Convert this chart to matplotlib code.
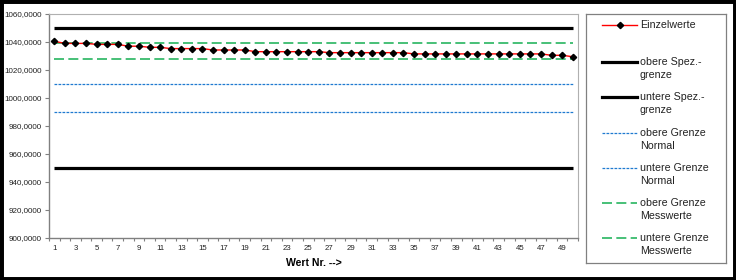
import matplotlib
matplotlib.use('Agg')
import matplotlib.pyplot as plt
import matplotlib.patches as patches
from matplotlib.ticker import FuncFormatter, FixedLocator
import numpy as np

plt.rcParams['font.family'] = ['Liberation Sans', 'DejaVu Sans']

# Data
wert_nr = list(range(1, 51))
einzelwerte = [1040.5, 1039.0, 1039.0, 1039.0, 1038.3, 1038.3, 1038.3, 1037.0, 1037.0, 1036.2,
               1036.2, 1035.3, 1035.3, 1035.3, 1035.3, 1034.3, 1034.3, 1034.3, 1034.3, 1033.1,
               1033.1, 1033.1, 1033.1, 1033.1, 1033.1, 1033.1, 1032.4, 1032.4, 1032.4, 1032.4,
               1032.4, 1032.4, 1032.4, 1032.4, 1031.5, 1031.5, 1031.5, 1031.5, 1031.5, 1031.5,
               1031.5, 1031.5, 1031.5, 1031.5, 1031.5, 1031.5, 1031.5, 1030.5, 1030.5, 1029.5]
obere_spez = 1050.0
untere_spez = 950.0
obere_normal = 1010.0
untere_normal = 990.0
obere_mess = 1039.5
untere_mess = 1028.0
y_ticks = [900, 920, 940, 960, 980, 1000, 1020, 1040, 1060]
x_labels = list(range(1, 50, 2))

W, H = 736, 280
fig = plt.figure(figsize=(W / 100, H / 100), dpi=100)
fig.patch.set_facecolor('white')

# plot area in pixel coords
L, R, T, B = 49, 578, 14, 238
ax = fig.add_axes([L / W, 1 - B / H, (R - L) / W, (B - T) / H])

red = '#ff0000'
blue = '#1f7ad0'
green = '#27b560'

n = len(wert_nr)
ax.plot(wert_nr, [obere_spez] * n, color='black', lw=2.3, solid_capstyle='butt')
ax.plot(wert_nr, [untere_spez] * n, color='black', lw=2.3, solid_capstyle='butt')
ax.plot(wert_nr, [obere_normal] * n, color=blue, lw=0.9, dashes=(2.2, 1.0))
ax.plot(wert_nr, [untere_normal] * n, color=blue, lw=0.9, dashes=(2.2, 1.0))
ax.plot(wert_nr, [obere_mess] * n, color=green, lw=1.2, dashes=(6, 2.6))
ax.plot(wert_nr, [untere_mess] * n, color=green, lw=1.2, dashes=(6, 2.6))
ax.plot(wert_nr, einzelwerte, color=red, lw=1.0, marker='D', markersize=3.2,
        markerfacecolor='black', markeredgecolor='black')

ax.set_xlim(0.5, 50.5)
ax.set_ylim(900, 1060)
ax.set_yticks(y_ticks)
ax.yaxis.set_major_formatter(FuncFormatter(lambda v, p: f'{v:.4f}'.replace('.', ',')))
ax.tick_params(axis='y', length=3, width=0.8, color='#808080', labelsize=5.8, pad=2, labelcolor='#222222')

ax.xaxis.set_major_locator(FixedLocator(np.arange(0.5, 51, 1.0)))
ax.xaxis.set_major_formatter(FuncFormatter(lambda v, p: ''))
ax.xaxis.set_minor_locator(FixedLocator(x_labels))
ax.xaxis.set_minor_formatter(FuncFormatter(lambda v, p: f'{int(v)}'))
ax.tick_params(axis='x', which='major', length=2.5, width=0.8, color='#808080')
ax.tick_params(axis='x', which='minor', length=0, labelsize=5.6, pad=5, labelcolor='#222222')

for s in ['left', 'bottom']:
    ax.spines[s].set_color('#808080')
    ax.spines[s].set_linewidth(1.0)
for s in ['top', 'right']:
    ax.spines[s].set_color('#b0b0b0')
    ax.spines[s].set_linewidth(0.8)

ax.set_xlabel('Wert Nr. -->', fontsize=7.6, fontweight='bold', labelpad=4)

# Legend drawn by hand
lx0, lx1, ly0, ly1 = 585.7, 725.7, 14, 263.3
lax = fig.add_axes([lx0 / W, 1 - ly1 / H, (lx1 - lx0) / W, (ly1 - ly0) / H])
lax.set_xlim(lx0, lx1)
lax.set_ylim(ly1, ly0)
lax.set_xticks([])
lax.set_yticks([])
for s in lax.spines.values():
    s.set_color('#808080')
    s.set_linewidth(0.9)

hx0, hx1, tx = 602.3, 636.7, 640
entries = [
    (['Einzelwerte'], 25, dict(color=red, lw=1.0, marker='D', markersize=3.2, markevery=[1],
                                markerfacecolor='black', markeredgecolor='black')),
    (['obere Spez.-', 'grenze'], 62, dict(color='black', lw=2.3)),
    (['untere Spez.-', 'grenze'], 97, dict(color='black', lw=2.3)),
    (['obere Grenze', 'Normal'], 133, dict(color=blue, lw=0.9, dashes=(2.2, 1.0))),
    (['untere Grenze', 'Normal'], 168, dict(color=blue, lw=0.9, dashes=(2.2, 1.0))),
    (['obere Grenze', 'Messwerte'], 203, dict(color=green, lw=1.2, dashes=(6, 2.6))),
    (['untere Grenze', 'Messwerte'], 238.5, dict(color=green, lw=1.2, dashes=(6, 2.6))),
]
for lines, y, style in entries:
    lax.plot([hx0, (hx0 + hx1) / 2, hx1], [y, y, y], **style)
    for i, t in enumerate(lines):
        lax.text(tx, y + i * 13, t, fontsize=7.7, ha='left', va='center', color='#222222')

# outer black frame
fig.add_artist(patches.Rectangle((0, 0), 1, 1, transform=fig.transFigure, fill=False,
                                 edgecolor='black', linewidth=5))

fig.savefig('out.png', dpi=100, facecolor='white')
